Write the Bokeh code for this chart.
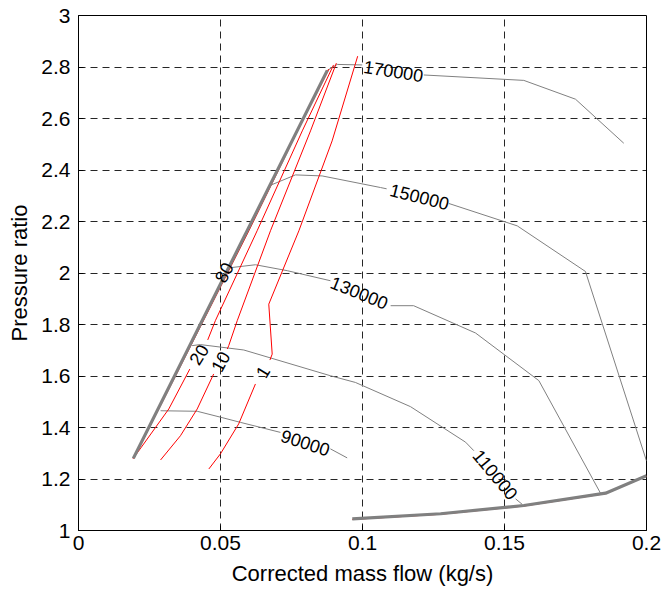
import math
from bokeh.plotting import figure
from bokeh.models import Range1d, FixedTicker
from bokeh.embed import file_html
from bokeh.resources import INLINE
from bokeh.core.properties import value

nan = float("nan")

# ---- data ----
x_ticks = [0, 0.05, 0.1, 0.15, 0.2]
x_tick_labels = ["0", "0.05", "0.1", "0.15", "0.2"]
y_ticks = [1, 1.2, 1.4, 1.6, 1.8, 2, 2.2, 2.4, 2.6, 2.8, 3]
y_tick_labels = ["1", "1.2", "1.4", "1.6", "1.8", "2", "2.2", "2.4", "2.6", "2.8", "3"]

surge_x = [0.0193, 0.0876]
surge_y = [1.280, 2.787]

choke_x = [0.0964, 0.1275, 0.1568, 0.1856, 0.2]
choke_y = [1.045, 1.065, 1.097, 1.145, 1.213]

# speed lines (rpm); nan = gap where the label sits
speed_90000_x = [0.0289, 0.0418, 0.0500, 0.0570, 0.0711, nan, 0.0887, 0.0946]
speed_90000_y = [1.465, 1.463, 1.440, 1.420, 1.381, nan, 1.317, 1.282]
speed_110000_x = [0.0400, 0.0429, 0.0582, 0.0887, 0.0975, 0.1169, 0.1363, 0.1392, nan, 0.1539, 0.1563]
speed_110000_y = [1.718, 1.722, 1.701, 1.601, 1.575, 1.481, 1.343, 1.310, nan, 1.123, 1.101]
speed_130000_x = [0.0530, 0.0623, 0.0735, 0.0887, nan, 0.1099, 0.1180, 0.1398, 0.1621, 0.1838]
speed_130000_y = [2.020, 2.032, 2.009, 1.970, nan, 1.873, 1.873, 1.767, 1.582, 1.145]
speed_150000_x = [0.0670, 0.0764, 0.0858, 0.1063, 0.1085, nan, 0.1304, 0.1545, 0.1785, 0.2]
speed_150000_y = [2.338, 2.381, 2.377, 2.332, 2.327, nan, 2.270, 2.183, 2.006, 1.27]
speed_170000_x = [0.0876, 0.0911, 0.0999, nan, 0.1216, 0.1568, 0.1750, 0.1920]
speed_170000_y = [2.787, 2.810, 2.808, nan, 2.769, 2.748, 2.675, 2.504]

speed_labels = ["90000", "110000", "130000", "150000", "170000"]
speed_label_x = [0.0799, 0.1468, 0.0989, 0.1201, 0.1109]
speed_label_y = [1.341, 1.217, 1.923, 2.296, 2.784]
speed_label_deg = [-18, -50, -22, -14, -9]

# red contour lines
red_80_x = [0.0195, 0.0600, 0.0772, 0.0882]
red_80_y = [1.280, 2.164, 2.552, 2.792]
red_20_x = [0.0193, 0.0318, 0.0392, nan, 0.0455, 0.0482, 0.0629, 0.0788, 0.0898]
red_20_y = [1.280, 1.472, 1.627, nan, 1.740, 1.815, 2.164, 2.552, 2.808]
red_10_x = [0.0289, 0.0359, 0.0418, 0.0476, nan, 0.0524, 0.0529, 0.0559, 0.0676, 0.0817, 0.0908]
red_10_y = [1.274, 1.368, 1.472, 1.608, nan, 1.705, 1.718, 1.815, 2.164, 2.552, 2.815]
red_1_x = [0.0459, 0.0500, 0.0564, 0.0623, nan, 0.0674, 0.0682, 0.0670, 0.0776, 0.0893, 0.0983]
red_1_y = [1.239, 1.298, 1.414, 1.569, nan, 1.662, 1.685, 1.879, 2.164, 2.513, 2.842]

red_labels = ["80", "20", "10", "1"]
red_label_x = [0.0512, 0.0424, 0.0500, 0.0649]
red_label_y = [2.002, 1.683, 1.656, 1.616]
red_label_deg = [63, 58, 62, 59]

FONT = "Liberation Sans"
GRAY = "#808080"
RED = "#ff0000"

p = figure(width=664, height=592, output_backend="svg", toolbar_location=None,
           x_range=Range1d(0, 0.2), y_range=Range1d(1, 3),
           min_border_left=78, min_border_right=18, min_border_top=15, min_border_bottom=62,
           background_fill_color="white", border_fill_color="white")

p.outline_line_color = "black"
p.outline_line_width = 1

for ax in (p.xaxis[0], p.yaxis[0]):
    ax.major_tick_in = 5
    ax.major_tick_out = 0
    ax.minor_tick_line_color = None
    ax.axis_line_color = "black"
    ax.major_tick_line_color = "black"
    ax.major_label_text_font = FONT
    ax.major_label_text_font_size = "21px"
    ax.major_label_text_color = "black"
    ax.axis_label_text_font = FONT
    ax.axis_label_text_font_size = "22px"
    ax.axis_label_text_font_style = "normal"
    ax.axis_label_text_color = "black"

p.xaxis.ticker = FixedTicker(ticks=x_ticks)
p.yaxis.ticker = FixedTicker(ticks=y_ticks)
p.xaxis.major_label_overrides = {t: l for t, l in zip(x_ticks, x_tick_labels)}
p.yaxis.major_label_overrides = {t: l for t, l in zip(y_ticks, y_tick_labels)}
p.xaxis.axis_label = "Corrected mass flow (kg/s)"
p.yaxis.axis_label = "Pressure ratio"
p.xaxis.major_label_standoff = 5
p.yaxis.major_label_standoff = 8
p.xaxis.axis_label_standoff = 8
p.yaxis.axis_label_standoff = 6

for g in (p.xgrid[0], p.ygrid[0]):
    g.grid_line_color = "black"
    g.grid_line_alpha = 0.85
    g.grid_line_dash = "7 5"
    g.grid_line_width = 1
p.xgrid.ticker = FixedTicker(ticks=x_ticks)
p.ygrid.ticker = FixedTicker(ticks=y_ticks)

# speed lines
for xs, ys in [(speed_90000_x, speed_90000_y), (speed_110000_x, speed_110000_y),
               (speed_130000_x, speed_130000_y), (speed_150000_x, speed_150000_y),
               (speed_170000_x, speed_170000_y)]:
    p.line(xs, ys, line_color=GRAY, line_width=1)

# red contours
for xs, ys in [(red_80_x, red_80_y), (red_20_x, red_20_y), (red_10_x, red_10_y), (red_1_x, red_1_y)]:
    p.line(xs, ys, line_color=RED, line_width=1)

# surge and choke boundaries
p.line(surge_x, surge_y, line_color=RED, line_width=1)
p.line(surge_x, surge_y, line_color=GRAY, line_width=3.2)
p.line(choke_x, [v - 0.002 for v in choke_y], line_color=RED, line_width=1)
p.line(choke_x, choke_y, line_color=GRAY, line_width=3.2)

p.text(speed_label_x, speed_label_y, text=speed_labels,
       angle=[math.radians(a) for a in speed_label_deg],
       text_font=value(FONT), text_font_size="18px", text_color="black",
       text_align="center", text_baseline="middle")
p.text(red_label_x, red_label_y, text=red_labels,
       angle=[math.radians(a) for a in red_label_deg],
       text_font=value(FONT), text_font_size="18px", text_color="black",
       text_align="center", text_baseline="middle")

open("out.html", "w").write(file_html(p, INLINE))
